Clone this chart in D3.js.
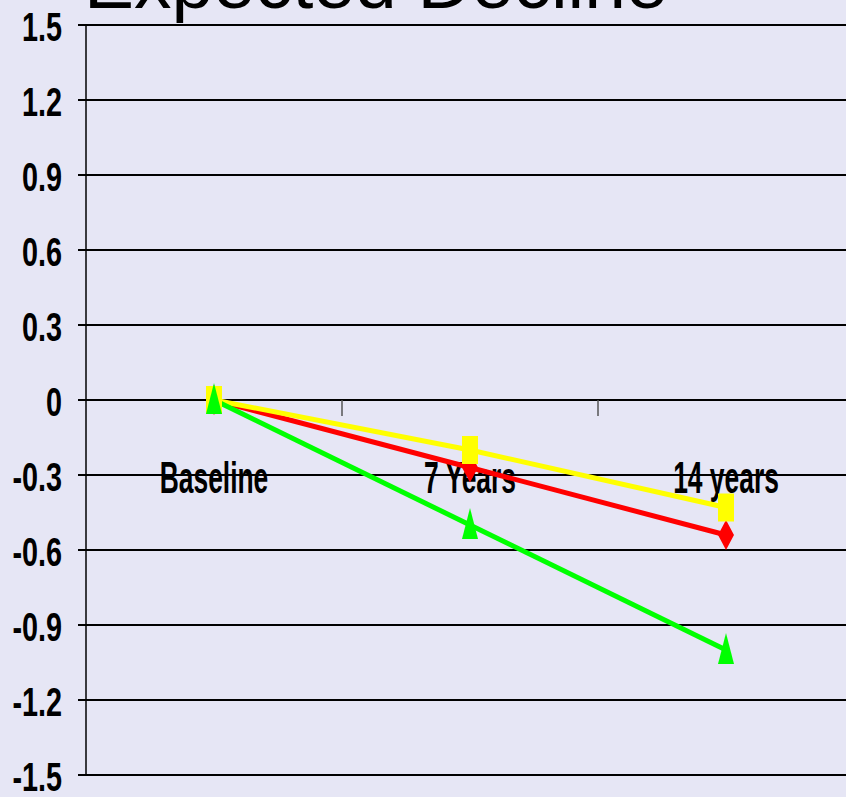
<!DOCTYPE html>
<html>
<head>
<meta charset="utf-8">
<script src="https://cdn.jsdelivr.net/npm/d3@7"></script>
<style>
  body { margin: 0; background: #e6e6f5; overflow: hidden; }
  svg { display: block; }
  .lbl { font-family: "Liberation Sans", Arial, sans-serif; font-weight: bold; fill: #000; }
</style>
</head>
<body>
<svg id="chart" width="846" height="797"></svg>
<script>
// data
var categories = ["Baseline", "7 Years", "14 years"];
var seriesRed = [0, -0.27, -0.54];
var seriesYellow = [0, -0.2, -0.43];
var seriesGreen = [0, -0.5, -1.0];
var yTicks = [1.5, 1.2, 0.9, 0.6, 0.3, 0, -0.3, -0.6, -0.9, -1.2, -1.5];
var title = "Expected Decline";

var svg = d3.select("#chart");

var x = d3.scaleBand()
  .domain(categories)
  .range([86, 854]);

var y = d3.scaleLinear()
  .domain([-1.5, 1.5])
  .range([775, 25]);

// title (cut off at top, like the slide)
svg.append("text")
  .attr("x", 84)
  .attr("y", 8)
  .style("font-family", "'Liberation Sans', Arial, sans-serif")
  .style("font-size", "75px")
  .text(title);

// gridlines
svg.append("g")
  .selectAll("line")
  .data(yTicks)
  .enter()
  .append("line")
  .attr("x1", 78)
  .attr("x2", 846)
  .attr("y1", function(d){ return y(d) })
  .attr("y2", function(d){ return y(d) })
  .style("stroke", "#000")
  .style("stroke-width", 2);

// y axis line
svg.append("line")
  .attr("x1", 86).attr("x2", 86)
  .attr("y1", y(1.5)).attr("y2", y(-1.5))
  .style("stroke", "#000")
  .style("stroke-width", 1.5);

// category boundary ticks on zero line
svg.append("g")
  .selectAll("line")
  .data(categories.slice(1))
  .enter()
  .append("line")
  .attr("x1", function(d){ return x(d) })
  .attr("x2", function(d){ return x(d) })
  .attr("y1", y(0))
  .attr("y2", y(0) + 16)
  .style("stroke", "#555")
  .style("stroke-width", 1.5);

// y tick labels (condensed, plain hyphen for minus)
svg.append("g")
  .selectAll("text")
  .data(yTicks)
  .enter()
  .append("text")
  .attr("class", "lbl")
  .attr("text-anchor", "end")
  .attr("transform", function(d){ return `translate(62, ${y(d) + 16}) scale(0.72,1)` })
  .style("font-size", "40px")
  .text(function(d){ return d === 0 ? "0" : d.toFixed(1) });

// category labels (condensed)
svg.append("g")
  .selectAll("text")
  .data(categories)
  .enter()
  .append("text")
  .attr("class", "lbl")
  .attr("text-anchor", "middle")
  .attr("transform", function(d){ return `translate(${x(d) + x.bandwidth()/2}, 493) scale(0.6,1)` })
  .style("font-size", "44px")
  .text(function(d){ return d });

var line = d3.line()
  .x(function(d,i){ return x(categories[i]) + x.bandwidth()/2 })
  .y(function(d){ return y(d) });

var series = [
  {values: seriesRed, color: "#ff0000", shape: "diamond"},
  {values: seriesYellow, color: "#ffff00", shape: "square"},
  {values: seriesGreen, color: "#00ff00", shape: "triangle"}
];

series.forEach(function(s){
  svg.append("path")
    .attr("d", line(s.values))
    .style("fill", "none")
    .style("stroke", s.color)
    .style("stroke-width", 5);
});

function markerPath(shape) {
  if (shape === "diamond") return "M0,-15L8,0L0,15L-8,0Z";
  if (shape === "square") return "M-8,-14L8,-14L8,14L-8,14Z";
  return "M0,-17L8,14L-8,14Z";
}

series.forEach(function(s){
  svg.append("g")
    .selectAll("path")
    .data(s.values)
    .enter()
    .append("path")
    .attr("d", markerPath(s.shape))
    .attr("transform", function(d,i){
      return `translate(${x(categories[i]) + x.bandwidth()/2}, ${y(d)})`
    })
    .style("fill", s.color);
});
</script>
</body>
</html>
